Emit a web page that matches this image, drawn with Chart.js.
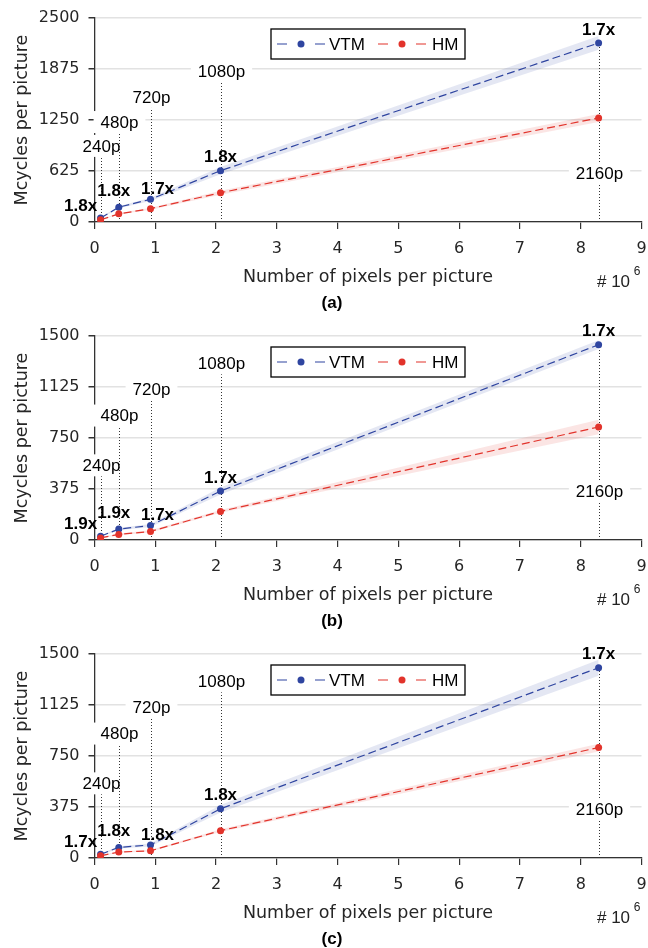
<!DOCTYPE html>
<html lang="en">
<head>
  <meta charset="UTF-8">
  <title>Mcycles per picture vs. resolution</title>
  <style>
    body {
      margin: 0;
      background: #fff;
    }
    .panel {
      position: absolute;
      left: 0;
      width: 648px;
      height: 312px;
    }
  </style>
</head>
<body>

  <div class="panel" style="top:0"><canvas id="chartA"></canvas></div>
  <div class="panel" style="top:318px"><canvas id="chartB"></canvas></div>
  <div class="panel" style="top:636px"><canvas id="chartC"></canvas></div>

  <script src="https://cdn.jsdelivr.net/npm/chart.js"></script>

  <script>
    // ---- data ----
    const resolutions = ['240p', '480p', '720p', '1080p', '2160p'];
    const pixelsMillions = [0.0998, 0.3994, 0.9216, 2.0736, 8.2944];
    const seriesNames = ['VTM', 'HM'];

    // (a)
    const vtmA   = [48, 182, 278, 629, 2194];
    const vtmLoA = [42, 170, 258, 584, 2110];
    const vtmHiA = [54, 194, 298, 674, 2280];
    const hmA    = [27, 100, 163, 359, 1275];
    const hmLoA  = [23, 92, 150, 335, 1225];
    const hmHiA  = [31, 108, 176, 383, 1325];
    const ratiosA = ['1.8x', '1.8x', '1.7x', '1.8x', '1.7x'];
    const yTicksA = [0, 625, 1250, 1875, 2500];

    // (b)
    const vtmB   = [28, 80, 107, 360, 1436];
    const vtmLoB = [24, 71, 96, 334, 1404];
    const vtmHiB = [32, 89, 118, 386, 1468];
    const hmB    = [15, 41, 63, 210, 831];
    const hmLoB  = [12, 35, 55, 200, 778];
    const hmHiB  = [18, 47, 71, 220, 884];
    const ratiosB = ['1.9x', '1.9x', '1.7x', '1.7x', '1.7x'];
    const yTicksB = [0, 375, 750, 1125, 1500];

    // (c)
    const vtmC   = [27, 78, 96, 362, 1399];
    const vtmLoC = [22, 69, 85, 335, 1340];
    const vtmHiC = [32, 87, 107, 389, 1458];
    const hmC    = [16, 44, 53, 201, 812];
    const hmLoC  = [13, 39, 47, 191, 784];
    const hmHiC  = [19, 49, 59, 211, 840];
    const ratiosC = ['1.7x', '1.8x', '1.8x', '1.8x', '1.7x'];
    const yTicksC = [0, 375, 750, 1125, 1500];

    // ---- layout / style ----
    const BLUE = '#2f45a0';
    const RED = '#e2332b';
    const TICK_FONT = { family: '"DejaVu Sans", sans-serif', size: 16 };
    const TITLE_FONT = { family: '"DejaVu Sans", sans-serif', size: 17.5 };
    const ANNOT_FONT = '17px "Liberation Sans", Arial, sans-serif';
    const BOLD_FONT = 'bold 17px "Liberation Sans", Arial, sans-serif';
    // where the resolution tags sit, as a share of the y range
    const tagLevelA = [0.373, 0.49, 0.613, 0.74, 0.24];
    const tagLevelBC = [0.366, 0.61, 0.738, 0.866, 0.24];
    const ratioDx = [-20, -5, 7, 0, 0];
    const ratioDy = [-12, -16, -10, -13, -13];

    const pts = arr => arr.map((v, i) => ({ x: pixelsMillions[i], y: v }));

    // dotted guides, resolution tags, ratio tags, legend box
    const annotate = {
      id: 'annotate',
      beforeDatasetsDraw(chart, args, o) {
        const { ctx } = chart;
        const x = chart.scales.x, y = chart.scales.y;
        const yMax = y.max;
        ctx.save();
        ctx.font = ANNOT_FONT;
        ctx.textAlign = 'center';
        ctx.textBaseline = 'middle';
        resolutions.forEach((name, i) => {
          const px = Math.round(x.getPixelForValue(pixelsMillions[i])) + 0.5;
          const tagVal = o.tagLevel[i] * yMax;
          const top = Math.max(tagVal, o.vtm[i]);
          ctx.strokeStyle = '#333';
          ctx.lineWidth = 1;
          ctx.setLineDash([1, 2]);
          ctx.beginPath();
          ctx.moveTo(px, y.getPixelForValue(0));
          ctx.lineTo(px, y.getPixelForValue(top));
          ctx.stroke();
          ctx.setLineDash([]);
          const py = y.getPixelForValue(tagVal);
          const w = ctx.measureText(name).width;
          ctx.fillStyle = '#fff';
          ctx.fillRect(px - w / 2 - 7, py - 11, w + 14, 22);
          ctx.fillStyle = '#000';
          ctx.fillText(name, px, py + 1);
        });
        ctx.restore();
      },
      afterDatasetsDraw(chart, args, o) {
        const { ctx } = chart;
        const x = chart.scales.x, y = chart.scales.y;
        ctx.save();
        ctx.font = BOLD_FONT;
        ctx.textAlign = 'center';
        ctx.textBaseline = 'middle';
        ctx.fillStyle = '#000';
        o.ratios.forEach((t, i) => {
          const px = x.getPixelForValue(pixelsMillions[i]) + ratioDx[i];
          const py = y.getPixelForValue(o.vtm[i]) + ratioDy[i];
          ctx.fillText(t, px, py);
        });

        // legend
        const lx = 271, ly = 29, lw = 194, lh = 30;
        ctx.fillStyle = '#fff';
        ctx.fillRect(lx, ly, lw, lh);
        ctx.strokeStyle = '#000';
        ctx.lineWidth = 1.3;
        ctx.strokeRect(lx, ly, lw, lh);
        const cy = ly + lh / 2;
        const items = [
          { name: seriesNames[0], color: BLUE, x0: 277, tx: 329 },
          { name: seriesNames[1], color: RED, x0: 378, tx: 432 }
        ];
        ctx.font = ANNOT_FONT;
        ctx.textAlign = 'left';
        items.forEach(it => {
          ctx.strokeStyle = it.color;
          ctx.lineWidth = 1.2;
          ctx.beginPath();
          ctx.moveTo(it.x0, cy); ctx.lineTo(it.x0 + 10, cy);
          ctx.moveTo(it.x0 + 38, cy); ctx.lineTo(it.x0 + 48, cy);
          ctx.stroke();
          ctx.fillStyle = it.color;
          ctx.beginPath();
          ctx.arc(it.x0 + 24, cy, 3.5, 0, Math.PI * 2);
          ctx.fill();
          ctx.fillStyle = '#000';
          ctx.fillText(it.name, it.tx, cy + 1);
        });
        ctx.restore();
      },
      afterDraw(chart, args, o) {
        const { ctx } = chart;
        const base = chart.scales.y.getPixelForValue(0);
        ctx.save();
        ctx.fillStyle = '#222';
        ctx.textBaseline = 'middle';
        ctx.textAlign = 'center';
        ctx.font = ANNOT_FONT;
        ctx.fillText('# 10', 613.5, base + 60);
        ctx.font = '12px "Liberation Sans", Arial, sans-serif';
        ctx.fillText('6', 637, base + 50);
        ctx.fillStyle = '#000';
        ctx.font = BOLD_FONT;
        ctx.fillText(o.tag, 332, base + 81);
        ctx.restore();
      }
    };

    function makePanel(id, tag, vtm, vtmLo, vtmHi, hm, hmLo, hmHi, ratios, yTicks, tagLevel) {
      const ctx = document.getElementById(id).getContext('2d');
      const band = (data, color, fill) => ({
        data: pts(data), borderWidth: 0, pointRadius: 0, fill: fill,
        backgroundColor: color, order: 3
      });
      const line = (name, data, color) => ({
        label: name, data: pts(data), borderColor: color, backgroundColor: color,
        borderWidth: 1.2, borderDash: [8, 4], pointRadius: 3.5, pointBorderWidth: 0,
        pointBackgroundColor: color, fill: false, order: 1
      });
      return new Chart(ctx, {
        type: 'line',
        data: {
          datasets: [
            band(vtmHi, 'rgba(47,69,160,0.13)', '+1'),
            band(vtmLo, 'rgba(0,0,0,0)', false),
            band(hmHi, 'rgba(226,51,43,0.13)', '+1'),
            band(hmLo, 'rgba(0,0,0,0)', false),
            line(seriesNames[1], hm, RED),
            line(seriesNames[0], vtm, BLUE)
          ]
        },
        options: {
          responsive: true,
          maintainAspectRatio: false,
          animation: false,
          devicePixelRatio: 1,
          layout: { padding: { top: 18, right: 6.5, bottom: 0, left: 0 } },
          plugins: {
            legend: { display: false },
            tooltip: { enabled: false },
            annotate: { tag, vtm, ratios, tagLevel }
          },
          scales: {
            x: {
              type: 'linear',
              min: 0, max: 9,
              ticks: { stepSize: 1, padding: 10, color: '#262626', font: TICK_FONT },
              grid: { drawOnChartArea: false, tickLength: 7, tickColor: '#333', lineWidth: 1.2 },
              border: { color: '#333', width: 1.3 },
              title: {
                display: true, text: 'Number of pixels per picture',
                color: '#262626', font: TITLE_FONT, padding: { top: 0, bottom: 24.5 }
              },
              afterFit: s => { s.height = 90; s.paddingLeft = 0; s.paddingRight = 0; }
            },
            y: {
              min: yTicks[0], max: yTicks[yTicks.length - 1],
              afterBuildTicks: s => { s.ticks = yTicks.map(v => ({ value: v })); },
              ticks: { padding: 9, color: '#262626', font: TICK_FONT, callback: v => String(v) },
              grid: { color: '#e2e2e2', lineWidth: 1.5, tickLength: 6, tickColor: '#333' },
              border: { color: '#333', width: 1.3 },
              title: {
                display: true, text: 'Mcycles per picture',
                color: '#262626', font: TITLE_FONT, padding: { top: 11.5, bottom: 0 }
              },
              afterFit: s => { s.width = 94.5; s.paddingTop = 0; s.paddingBottom = 0; }
            }
          }
        },
        plugins: [annotate]
      });
    }

    makePanel('chartA', '(a)', vtmA, vtmLoA, vtmHiA, hmA, hmLoA, hmHiA, ratiosA, yTicksA, tagLevelA);
    makePanel('chartB', '(b)', vtmB, vtmLoB, vtmHiB, hmB, hmLoB, hmHiB, ratiosB, yTicksB, tagLevelBC);
    makePanel('chartC', '(c)', vtmC, vtmLoC, vtmHiC, hmC, hmLoC, hmHiC, ratiosC, yTicksC, tagLevelBC);
  </script>

</body>
</html>
